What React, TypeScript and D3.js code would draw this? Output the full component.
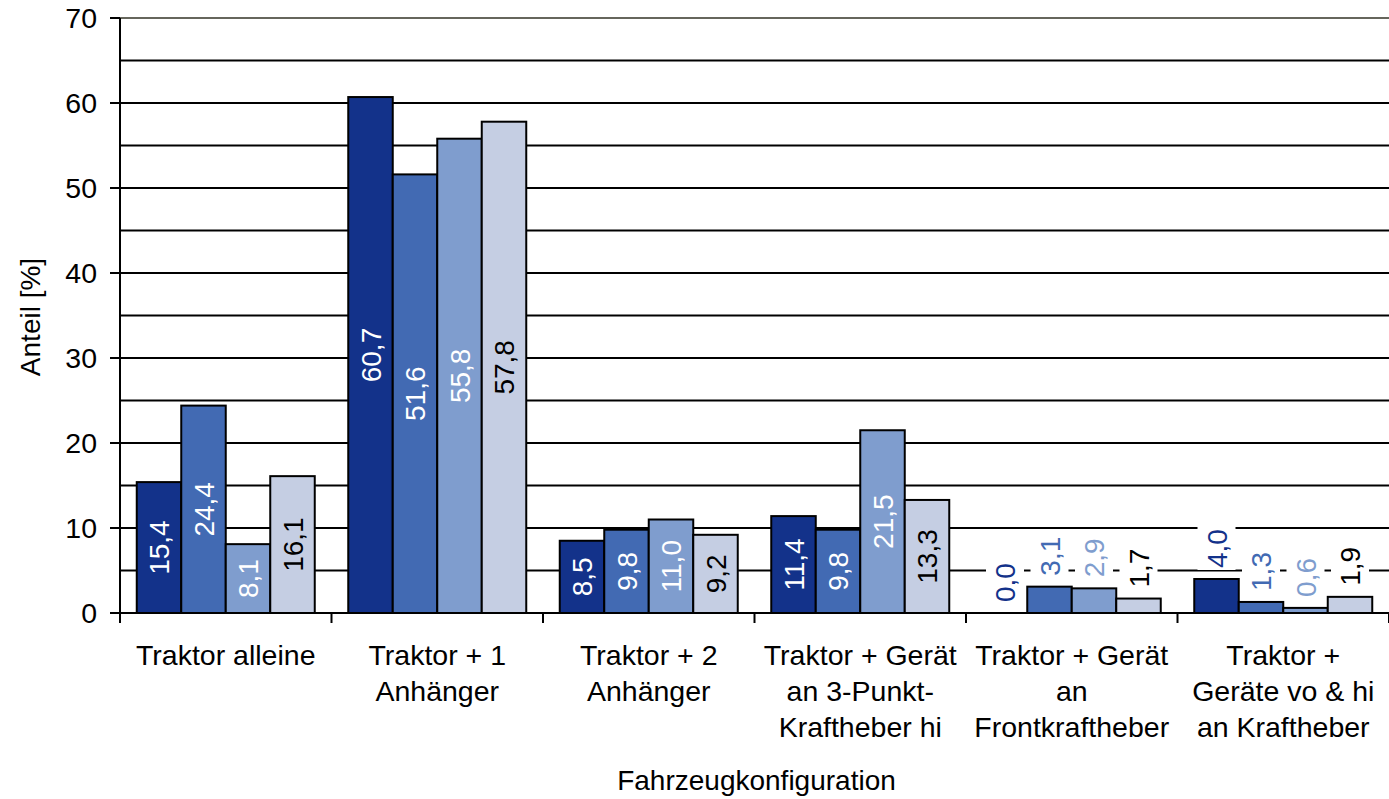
import React from "react";
import * as d3 from "d3";

const categories: string[][] = [
  ["Traktor alleine"],
  ["Traktor + 1", "Anhänger"],
  ["Traktor + 2", "Anhänger"],
  ["Traktor + Gerät", "an 3-Punkt-", "Kraftheber hi"],
  ["Traktor + Gerät", "an", "Frontkraftheber"],
  ["Traktor +", "Geräte vo & hi", "an Kraftheber"],
];
const seriesNames = ["s1", "s2", "s3", "s4"];
const s1 = [15.4, 60.7, 8.5, 11.4, 0.0, 4.0];
const s2 = [24.4, 51.6, 9.8, 9.8, 3.1, 1.3];
const s3 = [8.1, 55.8, 11.0, 21.5, 2.9, 0.6];
const s4 = [16.1, 57.8, 9.2, 13.3, 1.7, 1.9];
const seriesValues = [s1, s2, s3, s4];
const yTicks = [0, 10, 20, 30, 40, 50, 60, 70];
const gridValues = [5, 10, 15, 20, 25, 30, 35, 40, 45, 50, 55, 60, 65];
const outsideGroups = [4, 5];

const fills = ["#13328A", "#426AB3", "#7F9DCE", "#C5CEE3"];
const insideText = ["#ffffff", "#ffffff", "#ffffff", "#000000"];
const outsideText = ["#13328A", "#426AB3", "#7F9DCE", "#000000"];

const W = 1389;
const H = 799;
const left = 120;
const right = 1389;
const top = 18;
const bottom = 613;
const FONT = "'Liberation Sans', Arial, sans-serif";

const fmt = (v: number) => v.toFixed(1).replace(".", ",");

export default function App() {
  const idx = categories.map((_, i) => String(i));
  const x0 = d3.scaleBand<string>().domain(idx).range([left, right]).padding(0);
  const bw = x0.bandwidth();
  const pad = 16.75;
  const x1 = d3.scaleBand<string>().domain(seriesNames).range([pad, bw - pad]).padding(0);
  const y = d3.scaleLinear().domain([0, 70]).range([bottom, top]);
  const fs = 28;
  const charW = (s: string) => {
    let w = 0;
    for (const c of s) w += c === "," ? 0.278 : 0.556;
    return w * fs;
  };

  return (
    <svg width={W} height={H} style={{ position: "absolute", left: 0, top: 0, background: "#fff" }} fontFamily={FONT}>
      <rect x={0} y={0} width={W} height={H} fill="#fff" />
      {gridValues.map((g) => (
        <line key={g} x1={left} x2={right} y1={y(g)} y2={y(g)} stroke="#000" strokeWidth={2.2} />
      ))}
      <line x1={left} x2={right} y1={y(70)} y2={y(70)} stroke="#66665c" strokeWidth={2} />
      {seriesValues.map((vals, si) =>
        vals.map((v, ci) => {
          const bx = (x0(String(ci)) as number) + (x1(seriesNames[si]) as number);
          const w = x1.bandwidth();
          return (
            <rect key={`b${si}-${ci}`} x={bx} y={y(v)} width={w} height={bottom - y(v)} fill={fills[si]} stroke="#000" strokeWidth={2} />
          );
        })
      )}
      {seriesValues.map((vals, si) =>
        vals.map((v, ci) => {
          const cx = (x0(String(ci)) as number) + (x1(seriesNames[si]) as number) + x1.bandwidth() / 2;
          const txt = fmt(v);
          if (outsideGroups.includes(ci)) {
            const base = y(v) - 11;
            const len = charW(txt);
            return (
              <g key={`l${si}-${ci}`}>
                <rect x={cx - 19} y={base - len - 3} width={38} height={len + 5} fill="#fff" />
                <text
                  transform={`translate(${cx},${base}) rotate(-90)`}
                  textAnchor="start"
                  dy="0.36em"
                  fontSize={fs}
                  fill={outsideText[si]}
                >
                  {txt}
                </text>
              </g>
            );
          }
          const cy = (y(v) + bottom) / 2;
          return (
            <text
              key={`l${si}-${ci}`}
              transform={`translate(${cx},${cy}) rotate(-90)`}
              textAnchor="middle"
              dy="0.36em"
              fontSize={fs}
              fill={insideText[si]}
            >
              {txt}
            </text>
          );
        })
      )}
      <line x1={left} x2={left} y1={top} y2={bottom} stroke="#000" strokeWidth={2} />
      <line x1={left - 1} x2={right} y1={bottom} y2={bottom} stroke="#000" strokeWidth={2} />
      {yTicks.map((t) => (
        <g key={`yt${t}`}>
          <line x1={left - 10} x2={left} y1={y(t)} y2={y(t)} stroke="#000" strokeWidth={2} />
          <text x={97} y={y(t)} dy="0.36em" textAnchor="end" fontSize={28.5} fill="#000">
            {t}
          </text>
        </g>
      ))}
      {idx.concat([String(categories.length)]).map((k, i) => {
        const xx = i < categories.length ? (x0(k) as number) : right;
        return <line key={`xt${i}`} x1={xx} x2={xx} y1={bottom} y2={bottom + 10} stroke="#000" strokeWidth={2} />;
      })}
      {categories.map((lines, ci) => {
        const cx = (x0(String(ci)) as number) + bw / 2;
        return (
          <text key={`c${ci}`} textAnchor="middle" fontSize={28.5} fill="#000">
            {lines.map((ln, li) => (
              <tspan key={li} x={cx} y={655 + li * 36} dy="0.36em">
                {ln}
              </tspan>
            ))}
          </text>
        );
      })}
      <text x={(left + right) / 2 + 2} y={780} dy="0.36em" textAnchor="middle" fontSize={28} fill="#000">
        Fahrzeugkonfiguration
      </text>
      <text transform={`translate(30,317) rotate(-90)`} textAnchor="middle" dy="0.36em" fontSize={28} fill="#000">
        Anteil [%]
      </text>
    </svg>
  );
}
